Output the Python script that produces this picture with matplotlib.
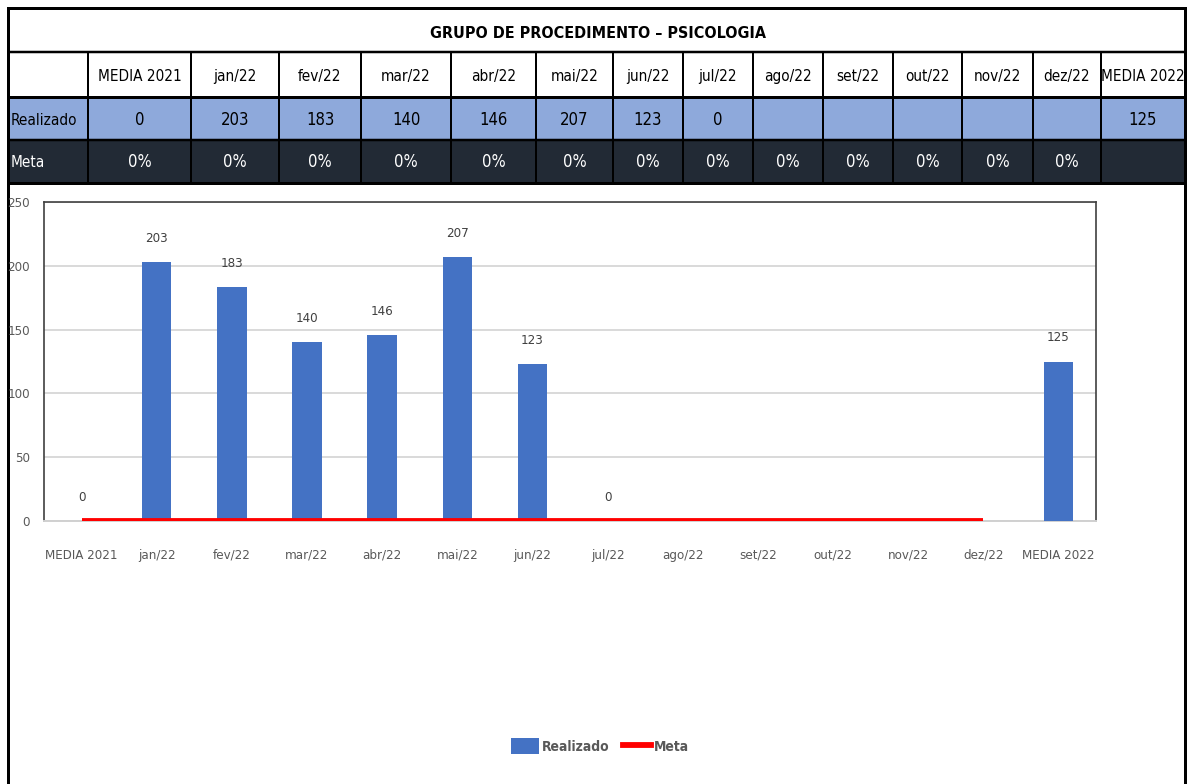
import matplotlib
matplotlib.use("Agg")
import matplotlib.pyplot as plt
from matplotlib.patches import Rectangle, Patch
from matplotlib.lines import Line2D
from matplotlib import font_manager as fm
import numpy as np

# ---------------- data ----------------
title = "GRUPO DE PROCEDIMENTO – PSICOLOGIA"
categories = ["MEDIA 2021", "jan/22", "fev/22", "mar/22", "abr/22", "mai/22", "jun/22",
              "jul/22", "ago/22", "set/22", "out/22", "nov/22", "dez/22", "MEDIA 2022"]
realizado = [0, 203, 183, 140, 146, 207, 123, 0, None, None, None, None, None, 125]
meta = [0, 0, 0, 0, 0, 0, 0, 0, 0, 0, 0, 0, 0]          # MEDIA 2021 .. dez/22
meta_labels = ["0%"] * 13 + [""]
row_labels = ["Realizado", "Meta"]
yticks = [0, 50, 100, 150, 200, 250]

# ---------------- fonts: prefer a narrow / condensed sans ----------------
def find_condensed(bold):
    best = None
    best_rank = 99
    prefs = ["Liberation Sans Narrow", "DejaVu Sans", "Roboto Condensed", "Roboto",
             "Open Sans Condensed", "Open Sans", "Noto Sans", "Lato", "Inter"]
    for f in fm.fontManager.ttflist:
        cond = ("Narrow" in f.name or "Condensed" in f.name or
                str(f.stretch) in ("condensed", "semi-condensed", "extra-condensed", "ultra-condensed")
                or (isinstance(f.stretch, (int, float)) and f.stretch < 500))
        if not cond or f.style != "normal":
            continue
        w = f.weight if isinstance(f.weight, (int, float)) else (700 if "bold" in str(f.weight) else 400)
        if bold != (w >= 600):
            continue
        if not bold and w < 350:
            continue
        fname_l = f.fname.lower()
        if "mono" in fname_l or "serif" in f.name.lower() or "serif" in fname_l and "sans" not in fname_l:
            continue
        rank = next((i for i, p in enumerate(prefs) if f.name.startswith(p)), 50)
        if rank < best_rank:
            best, best_rank = f, rank
    return best

reg = find_condensed(False)
bld = find_condensed(True)
if reg is not None:
    FP = fm.FontProperties(fname=reg.fname)
    S = 1.0
else:
    FP = fm.FontProperties(family="DejaVu Sans")
    S = 0.9
if bld is not None:
    FPB = fm.FontProperties(fname=bld.fname)
else:
    FPB = FP.copy()
    FPB.set_weight("bold")

def fp(size, bold=False):
    p = (FPB if bold else FP).copy()
    p.set_size(size * S)
    return p

BLUE = "#4472C4"
LIGHT = "#8EA9DB"
DARK = "#222A35"
GRAY = "#595959"
W, H = 1187, 784

fig = plt.figure(figsize=(W / 100, H / 100), dpi=100)

# overlay in pixel coordinates for the table/frame
ov = fig.add_axes([0, 0, 1, 1])
ov.set_xlim(0, W)
ov.set_ylim(H, 0)
ov.axis("off")

col_edges = [8, 88, 191, 279, 361, 451, 536, 613, 683, 753, 823, 893, 962, 1033, 1101, 1185]
row_edges = [8, 52, 97, 140, 183]

ov.add_patch(Rectangle((8, 97), 1185 - 8, 43, facecolor=LIGHT, edgecolor="none"))
ov.add_patch(Rectangle((8, 140), 1185 - 8, 43, facecolor=DARK, edgecolor="none"))

for y, lw in zip(row_edges, [3, 2.5, 3, 2.5, 3]):
    ov.plot([8, 1185], [y, y], color="black", lw=lw * 0.72, solid_capstyle="butt")
for xe in col_edges[1:-1]:
    ov.plot([xe, xe], [52, 183], color="black", lw=2 * 0.72)
ov.plot([8, 8], [8, H], color="black", lw=3 * 0.72)
ov.plot([1185, 1185], [8, H], color="black", lw=3 * 0.72)

ov.text((8 + 1185) / 2 + 2, 33, title, ha="center", va="center", fontproperties=fp(11.5, True),
        color="black")

TS = 11
centers = [(col_edges[i] + col_edges[i + 1]) / 2 for i in range(1, len(col_edges) - 1)]
for cx, cat in zip(centers, categories):
    ov.text(cx, 76, cat, ha="center", va="center", fontproperties=fp(TS), color="black")
for cx, v in zip(centers, realizado):
    if v is not None:
        ov.text(cx, 120, f"{v}", ha="center", va="center", fontproperties=fp(TS + 1), color="black")
for cx, lab in zip(centers, meta_labels):
    ov.text(cx, 162, lab, ha="center", va="center", fontproperties=fp(TS + 1), color="white")
ov.text(11, 120, row_labels[0], ha="left", va="center", fontproperties=fp(TS), color="black")
ov.text(11, 162, row_labels[1], ha="left", va="center", fontproperties=fp(TS), color="white")

# ---------------- chart ----------------
L, R, T, B = 44, 1096, 202, 521
ax = fig.add_axes([L / W, 1 - B / H, (R - L) / W, (B - T) / H])
ax.set_facecolor("none")
x = np.arange(len(categories))
bx = [i for i, v in enumerate(realizado) if v is not None]
bv = [realizado[i] for i in bx]
ax.bar(bx, bv, width=0.39, color=BLUE, zorder=3)
for i, v in zip(bx, bv):
    ax.annotate(f"{v}", (i, v), xytext=(0, 17), textcoords="offset points",
                ha="center", va="center", fontproperties=fp(9.5), color="#404040")
ax.plot(x[:len(meta)], meta, color="#FF0000", lw=4.2, zorder=4, solid_capstyle="butt")

ax.set_xlim(-0.5, len(categories) - 0.5)
ax.set_ylim(0, 250)
ax.set_yticks(yticks)
ax.set_xticks(x)
ax.set_xticklabels(categories)
for t in ax.get_xticklabels() + ax.get_yticklabels():
    t.set_fontproperties(fp(9.5))
ax.tick_params(axis="both", length=0, labelcolor=GRAY)
ax.tick_params(axis="x", pad=20)
ax.tick_params(axis="y", pad=10)
ax.grid(axis="y", color="#D9D9D9", lw=1.4, zorder=0)
ax.set_axisbelow(True)
for s in ["top", "left", "right"]:
    ax.spines[s].set_color("#404040")
    ax.spines[s].set_linewidth(1.2)
ax.spines["bottom"].set_color("#D0D0D0")
ax.spines["bottom"].set_linewidth(1.4)

handles = [Patch(facecolor=BLUE, edgecolor="none", label="Realizado"),
           Line2D([0], [0], color="#FF0000", lw=4.2, label="Meta")]
fig.legend(handles=handles, loc="center", bbox_to_anchor=(600 / W, 1 - 746 / H), ncol=2,
           frameon=False, prop=fp(10, True), labelcolor=GRAY,
           handlelength=2.0, handleheight=1.3, handletextpad=0.2, columnspacing=1.0)

fig.savefig("out.png", dpi=100)
